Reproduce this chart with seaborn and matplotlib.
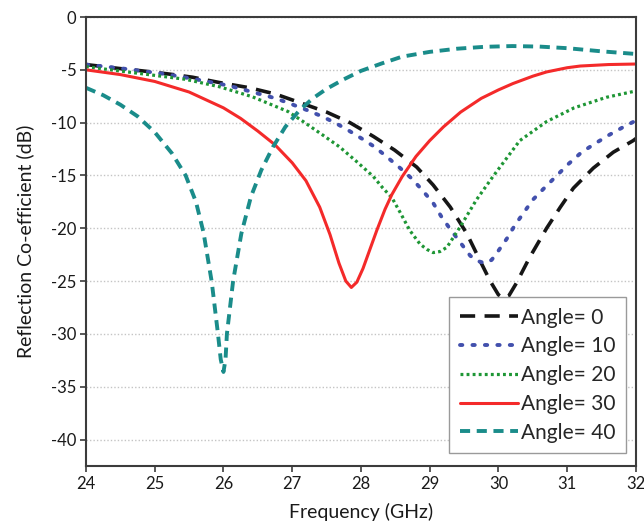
import matplotlib
matplotlib.use("Agg")
import matplotlib.pyplot as plt
import seaborn as sns
import pandas as pd

# Frequency (GHz) / reflection coefficient (dB) for each incidence angle
freq_a0 = [24.0, 24.48, 24.82, 25.21, 25.55, 25.94, 26.38, 26.76, 27.11, 27.5, 27.84,
           28.18, 28.49, 28.81, 29.05, 29.3, 29.54, 29.75, 29.88, 30.0, 30.07, 30.15,
           30.26, 30.45, 30.7, 30.9, 31.09, 31.38, 31.67, 31.96, 32.0]
s11_a0 = [-4.5, -4.87, -5.1, -5.4, -5.7, -6.2, -6.7, -7.3, -8.1, -9.0, -10.0,
          -11.3, -12.6, -14.2, -15.9, -18.0, -20.5, -23.3, -25.0, -26.3, -26.6, -26.4,
          -25.2, -22.8, -20.0, -18.0, -16.2, -14.3, -12.8, -11.7, -11.5]

freq_a10 = [24.0, 24.5, 25.16, 25.6, 26.08, 26.76, 26.97, 27.21, 27.43, 27.62, 27.81,
            28.01, 28.2, 28.37, 28.57, 28.74, 28.88, 29.05, 29.17, 29.29, 29.44, 29.59,
            29.7, 29.8, 29.9, 29.97, 30.12, 30.24, 30.5, 30.68, 30.85, 31.02, 31.21,
            31.4, 31.6, 31.82, 32.0]
s11_a10 = [-4.5, -4.85, -5.4, -5.9, -6.5, -7.7, -8.2, -8.8, -9.4, -10.0, -10.7,
           -11.5, -12.3, -13.2, -14.3, -15.3, -16.3, -17.6, -18.9, -20.0, -21.3, -22.6,
           -23.1, -23.3, -23.0, -22.4, -21.0, -19.7, -17.3, -16.1, -15.0, -13.9, -12.8,
           -12.0, -11.2, -10.4, -9.8]

freq_a20 = [24.0, 24.48, 24.97, 25.45, 25.94, 26.42, 26.94, 27.16, 27.45, 27.69, 27.94,
            28.18, 28.32, 28.45, 28.57, 28.71, 28.86, 28.96, 29.05, 29.15, 29.25, 29.44,
            29.68, 29.92, 30.31, 30.7, 31.1, 31.57, 32.0]
s11_a20 = [-4.7, -5.1, -5.5, -5.9, -6.6, -7.55, -8.95, -9.9, -11.2, -12.3, -13.7,
           -15.1, -16.2, -17.1, -18.5, -20.2, -21.5, -22.0, -22.3, -22.2, -21.8, -19.9,
           -17.3, -15.1, -11.7, -9.9, -8.6, -7.6, -7.0]

freq_a30 = [24.0, 24.5, 25.0, 25.5, 26.0, 26.25, 26.5, 26.75, 27.0, 27.2, 27.4,
            27.55, 27.68, 27.78, 27.86, 27.94, 28.03, 28.13, 28.23, 28.35, 28.45, 28.6,
            28.8, 29.0, 29.2, 29.45, 29.75, 30.0, 30.21, 30.5, 30.7, 31.0, 31.19,
            31.6, 32.0]
s11_a30 = [-5.0, -5.45, -6.1, -7.1, -8.6, -9.6, -10.8, -12.1, -13.8, -15.5, -18.0,
           -20.6, -23.3, -25.0, -25.6, -25.1, -23.8, -22.0, -20.2, -18.2, -16.8, -15.1,
           -13.2, -11.7, -10.4, -9.0, -7.7, -6.9, -6.3, -5.6, -5.2, -4.8, -4.64,
           -4.5, -4.45]

freq_a40 = [24.0, 24.25, 24.5, 24.75, 25.0, 25.25, 25.45, 25.6, 25.71, 25.83, 25.92,
            25.96, 26.0, 26.03, 26.05, 26.14, 26.26, 26.4, 26.55, 26.72, 26.9, 27.11,
            27.3, 27.5, 27.75, 28.0, 28.3, 28.6, 29.0, 29.4, 29.8, 30.2, 30.6, 31.0,
            31.5, 32.0]
s11_a40 = [-6.7, -7.4, -8.3, -9.4, -10.9, -12.9, -15.0, -17.5, -20.4, -25.1, -30.0,
           -32.4, -33.6, -32.4, -30.0, -25.0, -20.5, -17.0, -14.5, -12.3, -10.4, -8.8,
           -7.7, -6.8, -5.9, -5.1, -4.4, -3.75, -3.3, -3.0, -2.82, -2.75, -2.8, -2.95,
           -3.25, -3.5]

labels = ["Angle= 0", "Angle= 10", "Angle= 20", "Angle= 30", "Angle= 40"]
y_ticks = [0, -5, -10, -15, -20, -25, -30, -35, -40]
x_ticks = [24, 25, 26, 27, 28, 29, 30, 31, 32]

series = [(freq_a0, s11_a0), (freq_a10, s11_a10), (freq_a20, s11_a20),
          (freq_a30, s11_a30), (freq_a40, s11_a40)]

styles = [
    dict(color="#161616", lw=2.6, linestyle=(0, (4.2, 2.6))),
    dict(color="#4250ad", lw=2.8, linestyle=(0, (0.6, 2.6)), dash_capstyle="round"),
    dict(color="#1e9635", lw=2.3, linestyle=(0, (0.9, 1.0))),
    dict(color="#f42a2a", lw=2.2, linestyle="-"),
    dict(color="#1a8c8a", lw=2.8, linestyle=(0, (2.6, 1.7))),
]

sns.set_style("white")
plt.rcParams["font.family"] = ["Lato", "DejaVu Sans"]

fig = plt.figure(figsize=(6.44, 5.25), dpi=100)
ax = fig.add_axes([0.1335, 0.1124, 0.854, 0.8552])

for (fx, fy), lab, st in zip(series, labels, styles):
    df = pd.DataFrame({"Frequency": fx, "S11": fy})
    sns.lineplot(data=df, x="Frequency", y="S11", ax=ax, label=lab,
                 estimator=None, sort=False, **st)

ax.set_xlim(24, 32)
ax.set_ylim(-42.5, 0)
ax.set_xticks(x_ticks)
ax.set_yticks(y_ticks)
ax.set_xticklabels([str(t) for t in x_ticks], fontsize=12)
ax.set_yticklabels([str(t) for t in y_ticks], fontsize=12)
ax.yaxis.grid(True, color="#c4c4c4", linestyle=(0, (1, 1.5)), lw=1.0)
ax.xaxis.grid(False)
ax.set_axisbelow(True)

for sp in ax.spines.values():
    sp.set_color("#3c3c3c")
    sp.set_linewidth(1.5)

ax.tick_params(axis="both", which="major", direction="out", length=4, width=1.2,
               color="#3c3c3c", labelcolor="#1a1a1a", bottom=True, left=True,
               top=False, right=False, pad=3)

ax.set_xlabel("Frequency (GHz)", fontsize=14, color="#1a1a1a", labelpad=8)
ax.set_ylabel("Reflection Co-efficient (dB)", fontsize=14, color="#1a1a1a", labelpad=12)

leg = ax.legend(loc="lower right", bbox_to_anchor=(0.982, 0.029), fontsize=15,
                frameon=True, fancybox=False, framealpha=1, edgecolor="#9a9a9a",
                handlelength=2.8, handletextpad=0.15, labelspacing=0.42,
                borderpad=0.5, borderaxespad=0)
leg.get_frame().set_linewidth(1.0)

fig.savefig("out.png", dpi=100)
